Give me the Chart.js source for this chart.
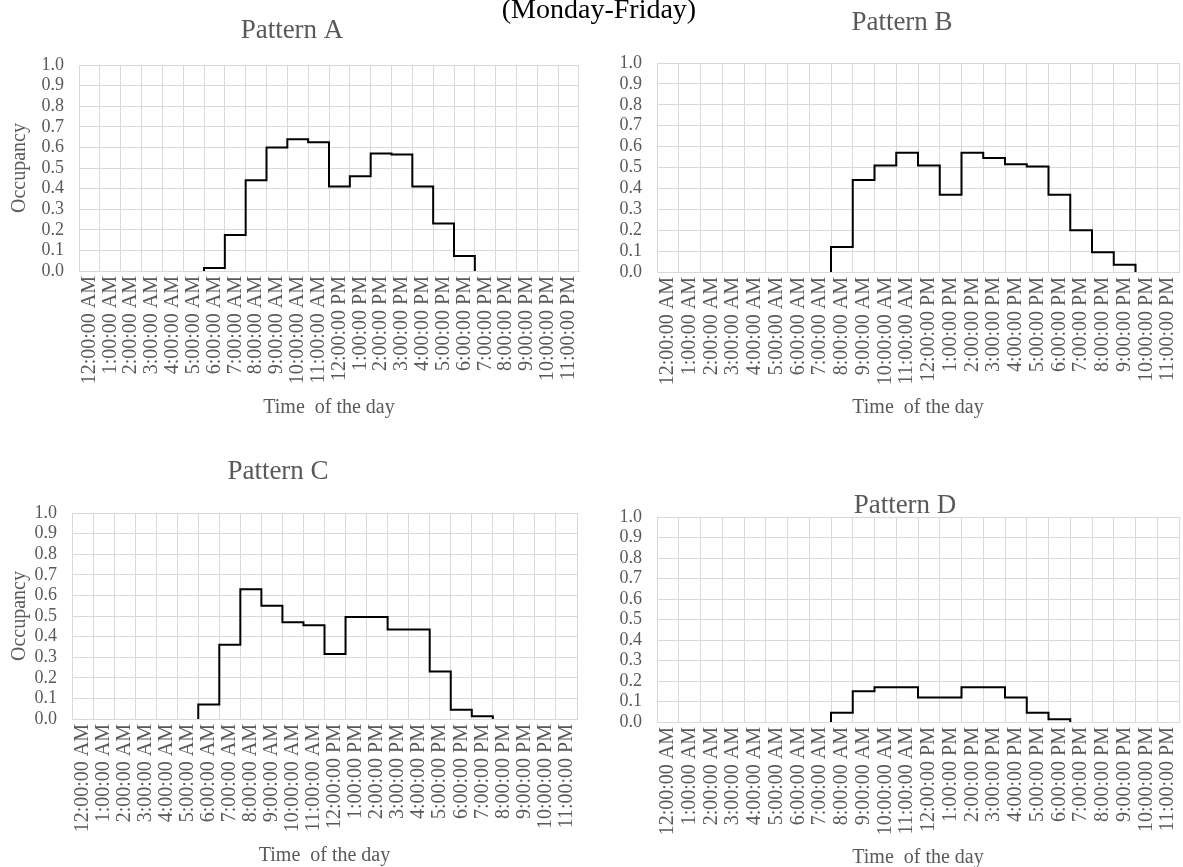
<!DOCTYPE html>
<html>
<head>
<meta charset="utf-8">
<script src="https://cdn.jsdelivr.net/npm/chart.js@4/dist/chart.umd.min.js"></script>
<style>
  html, body { margin: 0; padding: 0; background: #ffffff; }
  body { width: 1183px; height: 867px; position: relative; overflow: hidden; }
  canvas { position: absolute; }
  #heading {
    position: absolute; left: 0; width: 1198px; top: -5px;
    text-align: center; font: 28px/28px "Liberation Serif", "Times New Roman", serif;
    color: #000; white-space: nowrap; z-index: 2;
  }
</style>
</head>
<body>
<div id="heading">(Monday-Friday)</div>
<canvas id="pA"></canvas>
<canvas id="pB"></canvas>
<canvas id="pC"></canvas>
<canvas id="pD"></canvas>
<script>
// Hourly tick labels of the category axis
const hourLabels = [
  '12:00:00 AM', '1:00:00 AM', '2:00:00 AM', '3:00:00 AM', '4:00:00 AM', '5:00:00 AM',
  '6:00:00 AM', '7:00:00 AM', '8:00:00 AM', '9:00:00 AM', '10:00:00 AM', '11:00:00 AM',
  '12:00:00 PM', '1:00:00 PM', '2:00:00 PM', '3:00:00 PM', '4:00:00 PM', '5:00:00 PM',
  '6:00:00 PM', '7:00:00 PM', '8:00:00 PM', '9:00:00 PM', '10:00:00 PM', '11:00:00 PM'
];
const yTicks = [0.0, 0.1, 0.2, 0.3, 0.4, 0.5, 0.6, 0.7, 0.8, 0.9, 1.0];

// Occupancy fraction for each hour (null = no occupancy schedule for that hour)
const patternA = [null, null, null, null, null, null,
  0.015, 0.175, 0.44, 0.60, 0.64, 0.625, 0.41, 0.46, 0.57, 0.565, 0.41, 0.23, 0.073,
  null, null, null, null, null];
const patternB = [null, null, null, null, null, null, null, null,
  0.12, 0.44, 0.51, 0.57, 0.51, 0.37, 0.57, 0.545, 0.515, 0.505, 0.37, 0.20, 0.095, 0.035,
  null, null];
const patternC = [null, null, null, null, null, null,
  0.07, 0.36, 0.63, 0.55, 0.47, 0.455, 0.315, 0.495, 0.495, 0.435, 0.435, 0.23, 0.045, 0.013,
  null, null, null, null];
const patternD = [null, null, null, null, null, null, null, null,
  0.045, 0.15, 0.17, 0.17, 0.12, 0.12, 0.17, 0.17, 0.12, 0.045, 0.013,
  null, null, null, null, null];

const TEXT = '#595959';
const GRID = '#d9d9d9';
const SERIF = '"Liberation Serif", "Times New Roman", serif';

// Turn hourly values into step vertices: each hour holds its value from its
// start boundary to the next one; the run rises from and falls back to zero.
function stepPoints(values) {
  const pts = [];
  let open = false;
  values.forEach((v, h) => {
    if (v === null) {
      if (open) { pts.push({x: h, y: 0}); pts.push({x: h, y: null}); open = false; }
      return;
    }
    if (!open) { pts.push({x: h, y: 0}); open = true; }
    pts.push({x: h, y: v});
    pts.push({x: h + 1, y: v});
  });
  if (open) pts.push({x: values.length, y: 0});
  return pts;
}

// Draws the pattern name above each panel
const panelTitle = {
  id: 'panelTitle',
  afterDraw(chart, args, opts) {
    const ctx = chart.ctx;
    ctx.save();
    ctx.font = opts.size + 'px ' + SERIF;
    ctx.fillStyle = TEXT;
    ctx.textAlign = 'center';
    ctx.textBaseline = 'alphabetic';
    ctx.fillText(opts.text, opts.x, opts.y);
    ctx.restore();
  }
};

function makePanel(id, name, values, box, area, titlePos, yTitle, xTitleY) {
  const cv = document.getElementById(id);
  cv.width = box.w; cv.height = box.h;
  cv.style.left = box.x + 'px'; cv.style.top = box.y + 'px';
  const yWidth = area.left - box.x;
  const xHeight = box.y + box.h - area.bottom;
  const xTitleLine = 24;
  new Chart(cv, {
    type: 'line',
    data: {
      labels: hourLabels,
      datasets: [{
        data: stepPoints(values),
        xAxisID: 'xs',
        yAxisID: 'y',
        borderColor: '#000000',
        borderWidth: 2,
        pointRadius: 0,
        tension: 0,
        spanGaps: false,
        borderJoinStyle: 'miter',
        fill: false
      }]
    },
    options: {
      responsive: false,
      animation: false,
      events: [],
      layout: { padding: { top: area.top - box.y, right: box.x + box.w - area.right, bottom: 0, left: 0 } },
      plugins: {
        legend: { display: false },
        tooltip: { enabled: false },
        panelTitle: { text: name, x: titlePos.x - box.x, y: titlePos.y - box.y, size: 27 }
      },
      scales: {
        x: {
          type: 'category',
          offset: true,
          grid: { offset: true, color: GRID, lineWidth: 1, drawTicks: false },
          border: { color: GRID },
          ticks: {
            autoSkip: false, maxRotation: 90, minRotation: 90, padding: 5,
            color: TEXT, font: { family: SERIF, size: 20 }
          },
          title: {
            display: true, text: 'Time  of the day', color: TEXT,
            font: { family: SERIF, size: 20, lineHeight: 1.2 },
            padding: { top: 0, bottom: box.y + box.h - xTitleY - xTitleLine / 2 }
          },
          afterFit(s) { s.height = xHeight; s.paddingLeft = 0; s.paddingRight = 0; }
        },
        xs: { type: 'linear', min: 0, max: 24, display: false },
        y: {
          min: 0, max: 1,
          afterBuildTicks(s) { s.ticks = yTicks.map(v => ({value: v})); },
          grid: { color: GRID, lineWidth: 1, drawTicks: false },
          border: { color: GRID },
          ticks: {
            autoSkip: false, padding: 15, color: TEXT, font: { family: SERIF, size: 18 },
            callback: v => Number(v).toFixed(1)
          },
          title: {
            display: yTitle, text: 'Occupancy', color: TEXT,
            font: { family: SERIF, size: 20, lineHeight: 1.2 },
            padding: { top: 8, bottom: 0 }
          },
          afterFit(s) { s.width = yWidth; s.paddingTop = 0; s.paddingBottom = 0; }
        }
      }
    },
    plugins: [panelTitle]
  });
}

makePanel('pA', 'Pattern A', patternA,
  {x: 0, y: 0, w: 600, h: 440}, {left: 79, top: 65, right: 579, bottom: 271},
  {x: 292, y: 38}, true, 408);
makePanel('pB', 'Pattern B', patternB,
  {x: 600, y: 0, w: 583, h: 440}, {left: 657, top: 63, right: 1179, bottom: 272},
  {x: 902, y: 30}, false, 408);
makePanel('pC', 'Pattern C', patternC,
  {x: 0, y: 440, w: 600, h: 427}, {left: 72, top: 513, right: 577, bottom: 719},
  {x: 278, y: 479}, true, 856);
makePanel('pD', 'Pattern D', patternD,
  {x: 600, y: 440, w: 583, h: 427}, {left: 657, top: 517, right: 1179, bottom: 722},
  {x: 905, y: 513}, false, 858);
</script>
</body>
</html>
